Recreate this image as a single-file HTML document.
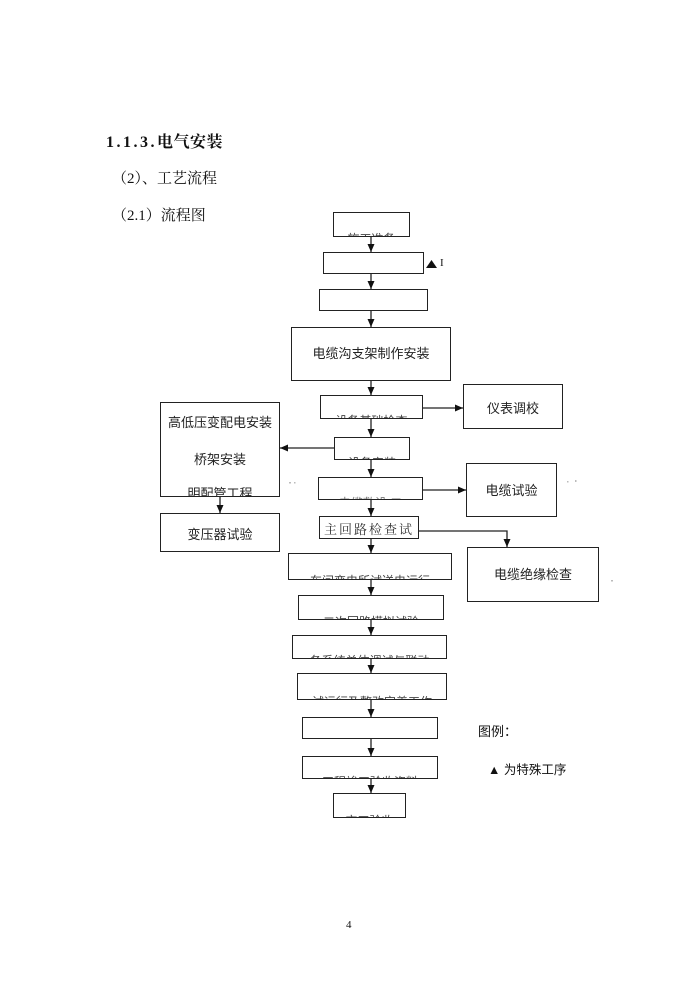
<!DOCTYPE html>
<html><head><meta charset="utf-8">
<style>
html,body{margin:0;padding:0;background:#fff;}
body{width:700px;height:990px;position:relative;overflow:hidden;}
.t{position:absolute;white-space:nowrap;color:#111;}
.serif{font-family:"Liberation Serif","Noto Serif CJK SC",serif;}
.sans{font-family:"Liberation Sans","Noto Sans CJK SC",sans-serif;}
.b{position:absolute;box-sizing:border-box;border:1.3px solid #222;overflow:hidden;background:#fff;}
.b .c{position:absolute;left:0;right:0;text-align:center;white-space:nowrap;font-family:"Liberation Sans","Noto Sans CJK SC",sans-serif;font-size:12px;line-height:12px;color:#444;}
.b .m{position:absolute;left:0;right:0;text-align:center;white-space:nowrap;font-family:"Liberation Sans","Noto Sans CJK SC",sans-serif;font-size:13px;color:#222;}
svg{position:absolute;left:0;top:0;}
</style></head>
<body>
<div class="t serif" style="left:106px;top:129px;font-size:16px;font-weight:bold;letter-spacing:0.5px;"><span style="letter-spacing:2.5px">1.1.3.</span>电气安装</div>
<div class="t serif" style="left:112px;top:167px;font-size:15px;">（2）、工艺流程</div>
<div class="t serif" style="left:112px;top:204px;font-size:15px;">（2.1）流程图</div>

<!-- main column boxes -->
<div class="b" style="left:333px;top:212px;width:77px;height:25px;"><div class="c" style="top:20px;">施工准备</div></div>
<div class="b" style="left:323px;top:252px;width:101px;height:22px;"><div class="c" style="top:16px;color:#999;">. . .</div></div>
<div class="b" style="left:319px;top:289px;width:109px;height:22px;"><div class="c" style="top:15px;color:#999;">. . . . . .</div></div>
<div class="b" style="left:291px;top:327px;width:160px;height:54px;"><div class="m" style="top:15px;">电缆沟支架制作安装</div></div>
<div class="b" style="left:320px;top:395px;width:103px;height:24px;"><div class="c" style="top:19px;">设备基础检查</div></div>
<div class="b" style="left:334px;top:437px;width:76px;height:23px;"><div class="c" style="top:19px;">设备安装</div></div>
<div class="b" style="left:318px;top:477px;width:105px;height:23px;"><div class="c" style="top:19px;color:#777;">电缆敷设 二</div></div>
<div class="b" style="left:319px;top:516px;width:100px;height:23px;"><div class="m serif" style="top:2px;font-family:'Liberation Serif','Noto Serif CJK SC',serif;letter-spacing:2px;color:#333;">主回路检查试</div></div>
<div class="b" style="left:288px;top:553px;width:164px;height:27px;"><div class="c" style="top:21px;">车间变电所试送电运行</div></div>
<div class="b" style="left:298px;top:595px;width:146px;height:25px;"><div class="c" style="top:20px;">二次回路模拟试验</div></div>
<div class="b" style="left:292px;top:635px;width:155px;height:24px;"><div class="c" style="top:19px;">各系统单体调试与联动</div></div>
<div class="b" style="left:297px;top:673px;width:150px;height:27px;"><div class="c" style="top:22px;">试运行及整改完善工作</div></div>
<div class="b" style="left:302px;top:717px;width:136px;height:22px;"></div>
<div class="b" style="left:302px;top:756px;width:136px;height:23px;"><div class="c" style="top:19px;">工程竣工验收资料</div></div>
<div class="b" style="left:333px;top:793px;width:73px;height:25px;"><div class="c" style="top:21px;">交工验收</div></div>

<!-- side boxes -->
<div class="b" style="left:160px;top:402px;width:120px;height:95px;">
  <div class="m" style="top:9px;">高低压变配电安装</div>
  <div class="m" style="top:46px;">桥架安装</div>
  <div class="m" style="top:80px;">明配管工程</div>
</div>
<div class="b" style="left:160px;top:513px;width:120px;height:39px;"><div class="m" style="top:10px;">变压器试验</div></div>
<div class="b" style="left:463px;top:384px;width:100px;height:45px;"><div class="m" style="top:13px;">仪表调校</div></div>
<div class="b" style="left:466px;top:463px;width:91px;height:54px;"><div class="m" style="top:16px;">电缆试验</div></div>
<div class="b" style="left:467px;top:547px;width:132px;height:55px;"><div class="m" style="top:16px;">电缆绝缘检查</div></div>

<svg width="700" height="990" viewBox="0 0 700 990">
<defs>
<marker id="ah" markerWidth="8" markerHeight="7" refX="8" refY="3.5" orient="auto" markerUnits="userSpaceOnUse">
<path d="M0,0 L8,3.5 L0,7 Z" fill="#111"/></marker>
</defs>
<g stroke="#222" stroke-width="1.3" fill="none" marker-end="url(#ah)">
<line x1="371" y1="237" x2="371" y2="252"/>
<line x1="371" y1="274" x2="371" y2="289"/>
<line x1="371" y1="311" x2="371" y2="327"/>
<line x1="371" y1="381" x2="371" y2="395"/>
<line x1="371" y1="419" x2="371" y2="437"/>
<line x1="371" y1="460" x2="371" y2="477"/>
<line x1="371" y1="500" x2="371" y2="516"/>
<line x1="371" y1="539" x2="371" y2="553"/>
<line x1="371" y1="580" x2="371" y2="595"/>
<line x1="371" y1="620" x2="371" y2="635"/>
<line x1="371" y1="659" x2="371" y2="673"/>
<line x1="371" y1="700" x2="371" y2="717"/>
<line x1="371" y1="739" x2="371" y2="756"/>
<line x1="371" y1="779" x2="371" y2="793"/>
<line x1="423" y1="408" x2="463" y2="408"/>
<line x1="334" y1="448" x2="280" y2="448"/>
<line x1="220" y1="497" x2="220" y2="513"/>
<line x1="423" y1="490" x2="466" y2="490"/>
<polyline points="419,531 507,531 507,547"/>
</g>
<polygon points="426,268 431.5,260 437,268" fill="#111"/>
<g fill="#bbb"><rect x="289" y="482" width="2" height="1.5"/><rect x="294" y="482" width="1.5" height="1.5"/><rect x="567" y="481" width="1.5" height="1.5"/><rect x="575" y="480" width="1.5" height="2"/><rect x="611" y="580" width="2" height="1.5"/></g>
</svg>
<div class="t serif" style="left:440px;top:257px;font-size:11px;">I</div>

<div class="t sans" style="left:478px;top:721px;font-size:13px;">图例：</div>
<div class="t sans" style="left:488px;top:759px;font-size:12.5px;">▲ 为特殊工序</div>

<div class="t serif" style="left:346px;top:919px;font-size:11px;">4</div>
</body></html>
